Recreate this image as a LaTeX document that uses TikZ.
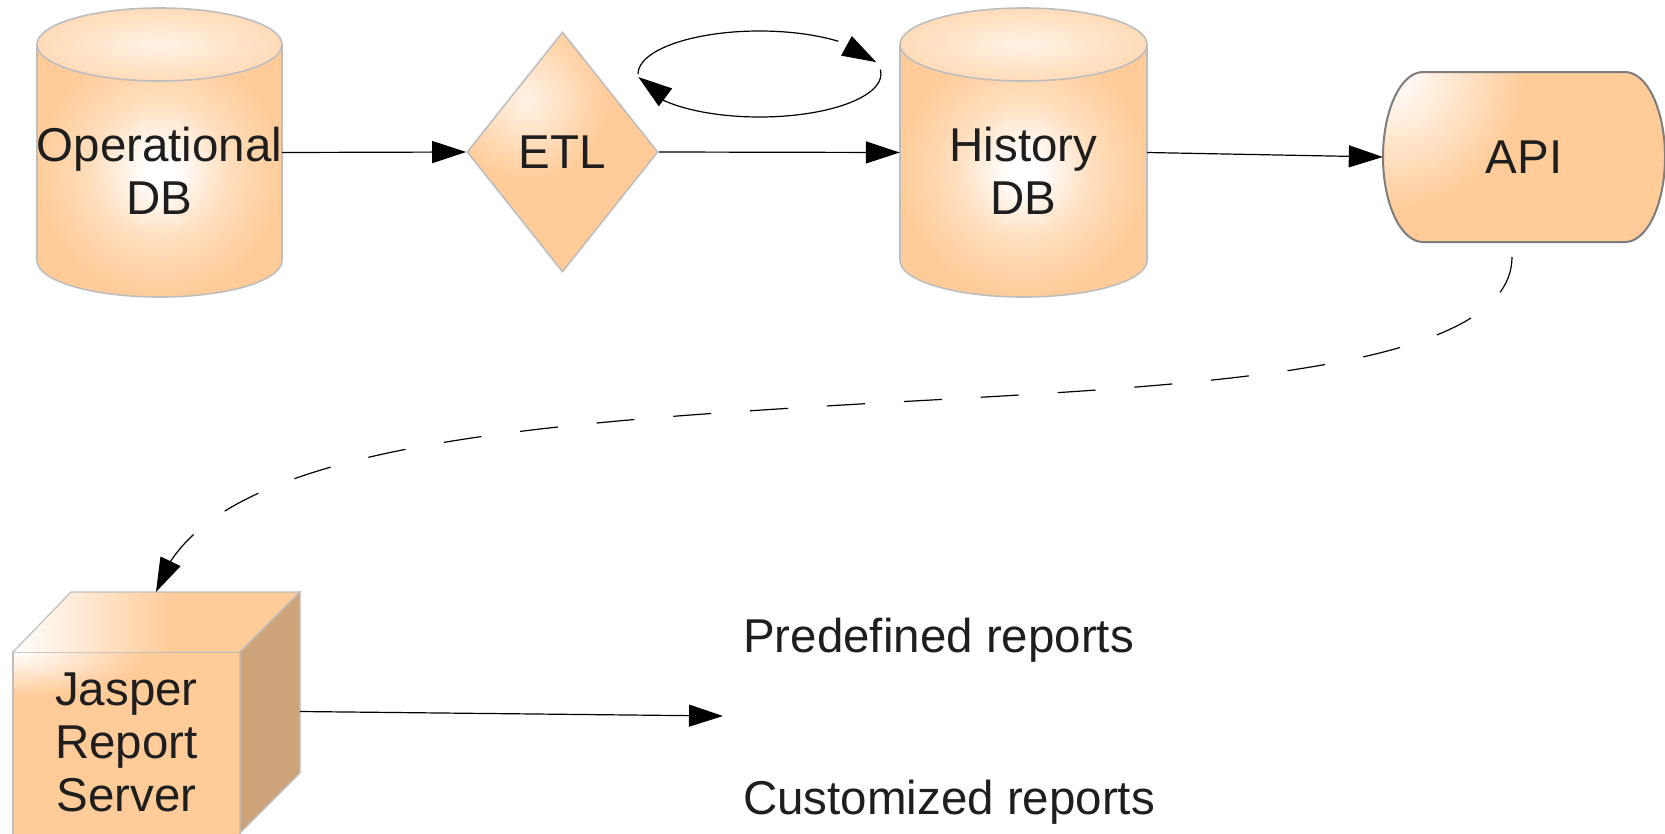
\documentclass[tikz,border=0pt]{standalone}
\usepackage{fontspec}
\setmainfont{Liberation Sans}
\usetikzlibrary{arrows.meta,bending,shapes.geometric}
\definecolor{orgfill}{RGB}{255,204,153}
\definecolor{cylline}{RGB}{190,190,190}
\definecolor{apiline}{RGB}{125,125,125}
\definecolor{cubeside}{RGB}{205,163,122}
\definecolor{txt}{RGB}{30,30,30}
\colorlet{orgmid}{orgfill!65!white}
\colorlet{topedge}{orgfill!70!white}
\colorlet{topcenter}{orgfill!25!white}
\colorlet{diacenter}{orgfill!25!white}
\pgfdeclareradialshading{cylglow}{\pgfpoint{0bp}{0bp}}{color(0bp)=(white); color(3bp)=(white); color(14bp)=(orgmid); color(25bp)=(orgfill); color(50bp)=(orgfill)}
\pgfdeclareradialshading{topglow}{\pgfpoint{0bp}{0bp}}{color(0bp)=(topcenter); color(25bp)=(topedge); color(50bp)=(topedge)}
\pgfdeclareradialshading{apiglow}{\pgfpoint{0bp}{0bp}}{color(0bp)=(white); color(11bp)=(orgfill); color(50bp)=(orgfill)}
\pgfdeclareradialshading{diaglow}{\pgfpoint{0bp}{0bp}}{color(0bp)=(diacenter); color(10bp)=(orgfill); color(50bp)=(orgfill)}
\pgfdeclareradialshading{cubeglow}{\pgfpoint{0bp}{0bp}}{color(0bp)=(white); color(5.5bp)=(orgfill); color(50bp)=(orgfill)}
\tikzset{
  lbl/.style={font=\fontsize{47.5}{53}\selectfont, text=txt, align=center, inner sep=0pt},
  box/.style={inner sep=0pt, draw=none},
  conn/.style={draw=black, line width=1.2pt, -{Triangle[length=34pt,width=22pt]}},
  dconn/.style={conn, dash pattern=on 38pt off 39pt},
  cylbody/.style={draw=cylline, line width=1.6pt, shading=cylglow},
  cyltop/.style={draw=cylline, line width=1.6pt, shading=topglow},
  cubeline/.style={draw=cylline, line width=1.2pt},
}
\begin{document}
\begin{tikzpicture}[x=1pt,y=-1pt]
\useasboundingbox (0,0) rectangle (1665,833);
\fill[white] (0,0) rectangle (1665,833);

% Operational DB
\shadedraw[cylbody] (37,44.5) -- (37,260.5) arc[start angle=180, end angle=0, x radius=122.5, y radius=36.5] -- (282,44.5) -- cycle;
\shadedraw[cyltop] (159.5,44.5) ellipse[x radius=122.5, y radius=36.5];
\node[box, minimum width=245pt, minimum height=289pt] (op) at (159.5,152.5) {};
\node[lbl] (optxt) at (159.5,171) {Operational\\DB};

% History DB
\shadedraw[cylbody] (900,44.5) -- (900,260.5) arc[start angle=180, end angle=0, x radius=123.5, y radius=36.5] -- (1147,44.5) -- cycle;
\shadedraw[cyltop] (1023.5,44.5) ellipse[x radius=123.5, y radius=36.5];
\node[box, minimum width=247pt, minimum height=289pt] (hist) at (1023.5,152.5) {};
\node[lbl] (histtxt) at (1023.5,171) {History\\DB};

% ETL
\begin{scope}
\clip (467,152) -- (562.5,32) -- (658,152) -- (562.5,272) -- cycle;
\shade[shading=diaglow] (527,100) circle (200);
\end{scope}
\node[diamond, draw=cylline, line width=1.6pt, minimum width=191pt, minimum height=240pt, inner sep=0pt,
  font=\fontsize{47.5}{53}\selectfont, text=txt] (etl) at (562.5,152) {ETL};

% self loop
\coordinate (loopc) at (759.5,74);
\draw[conn] (638,74) arc[start angle=180, end angle=344, x radius=121.5, y radius=43];
\draw[conn] (880.3,69.5) arc[start angle=-6, end angle=176, x radius=121.5, y radius=43];

% API
\begin{scope}
\clip (1423,72) -- (1625,72) arc[start angle=-90, end angle=90, x radius=40, y radius=85] -- (1423,242) arc[start angle=90, end angle=270, x radius=40, y radius=85] -- cycle;
\shade[shading=apiglow] (1392,76) circle (300);
\end{scope}
\draw[draw=apiline, line width=2pt] (1423,72) -- (1625,72) arc[start angle=-90, end angle=90, x radius=40, y radius=85] -- (1423,242) arc[start angle=90, end angle=270, x radius=40, y radius=85] -- cycle;
\node[lbl, minimum width=282pt, minimum height=170pt] (api) at (1524,157) {API};

% Cube
\begin{scope}
\clip (13,652) rectangle (240,836);
\fill[orgfill] (13,652) rectangle (240,836);
\shade[shading=cubeglow] (13,652) ellipse[x radius=600, y radius=200];
\end{scope}
\draw[cubeline] (13,836) -- (13,652) -- (240,652) -- (240,836);
\begin{scope}
\clip (13,652) -- (71,592) -- (300,592) -- (240,652) -- cycle;
\fill[orgfill] (0,580) rectangle (310,660);
\shade[left color=white, right color=orgfill] (13,580) rectangle (170,660);
\end{scope}
\draw[cubeline] (13,652) -- (71,592) -- (300,592) -- (240,652);
\filldraw[fill=cubeside, cubeline] (240,652) -- (300,592) -- (300,773) -- (240,833) -- cycle;
\node[lbl, minimum width=227pt, minimum height=181pt] (jrs) at (126.5,742.5) {Jasper\\Report\\Server};
\coordinate (jrsE) at (300,711.5);
\coordinate (jrsN) at (156,592);
\coordinate (apiS) at (1512,257);
\coordinate (rep) at (723,716);

% text
\node[lbl, anchor=base west] (pre) at (743,652) {Predefined reports};
\node[lbl, anchor=base west] (cus) at (743,814) {Customized reports};

% connectors
\draw[conn] (op.east) -- (etl.west);
\draw[conn] (etl.east) -- (hist.west);
\draw[conn] (hist.east) -- (api.west);
\draw[conn] (jrsE) -- (rep);
\draw[dconn] (apiS) .. controls (1512,377) and (1160,386.6) .. (860,404) .. controls (500,425) and (200,450) .. (jrsN);
\end{tikzpicture}
\end{document}
